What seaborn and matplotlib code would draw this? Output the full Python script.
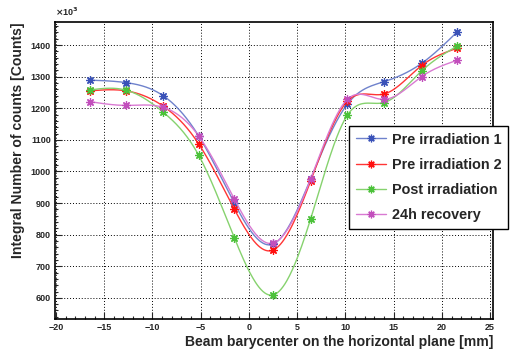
import numpy as np
import pandas as pd
import matplotlib
matplotlib.use("Agg")
import matplotlib.pyplot as plt
from matplotlib.lines import Line2D
from matplotlib.ticker import MultipleLocator
import seaborn as sns

# ---- data (values in units of 10^3 counts) ----
x_pos = [-16.5, -12.7, -8.9, -5.2, -1.5, 2.5, 6.4, 10.2, 14.0, 17.9, 21.6]
pre1 = [1289, 1281, 1240, 1112, 899, 770, 977, 1213, 1284, 1342, 1442]
pre2 = [1255, 1255, 1207, 1087, 880, 751, 970, 1222, 1245, 1335, 1390]
post = [1258, 1257, 1188, 1051, 789, 609, 850, 1178, 1218, 1318, 1397]
rec24 = [1221, 1209, 1203, 1112, 912, 773, 976, 1228, 1228, 1300, 1352]

series_names = ["Pre irradiation 1", "Pre irradiation 2", "Post irradiation", "24h recovery"]
series_vals = [pre1, pre2, post, rec24]
line_colors = ["#6f82cc", "#ff3535", "#86d26e", "#d97ad2"]
marker_colors = ["#3a52b8", "#ff1010", "#4cc23a", "#c24fbc"]

x_ticks = [-20, -15, -10, -5, 0, 5, 10, 15, 20, 25]
y_ticks = [600, 700, 800, 900, 1000, 1100, 1200, 1300, 1400]


def natural_spline(x, y, n=400):
    x = np.asarray(x, float)
    y = np.asarray(y, float)
    k = len(x)
    h = np.diff(x)
    A = np.zeros((k, k))
    b = np.zeros(k)
    A[0, 0] = 1
    A[-1, -1] = 1
    for i in range(1, k - 1):
        A[i, i - 1] = h[i - 1]
        A[i, i] = 2 * (h[i - 1] + h[i])
        A[i, i + 1] = h[i]
        b[i] = 6 * ((y[i + 1] - y[i]) / h[i] - (y[i] - y[i - 1]) / h[i - 1])
    M = np.linalg.solve(A, b)
    xs = np.linspace(x[0], x[-1], n)
    idx = np.clip(np.searchsorted(x, xs) - 1, 0, k - 2)
    x0, x1 = x[idx], x[idx + 1]
    hh = x1 - x0
    ys = (M[idx] * (x1 - xs) ** 3 / (6 * hh) + M[idx + 1] * (xs - x0) ** 3 / (6 * hh)
          + (y[idx] / hh - M[idx] * hh / 6) * (x1 - xs)
          + (y[idx + 1] / hh - M[idx + 1] * hh / 6) * (xs - x0))
    return xs, ys


sns.set_style("white")
plt.rcParams["font.family"] = ["Liberation Sans", "DejaVu Sans"]
plt.rcParams["font.weight"] = "bold"

fig = plt.figure(figsize=(5.13, 3.5), dpi=100)
ax = fig.add_axes([55 / 513, 1 - 319 / 350, (493 - 55) / 513, (319 - 22) / 350])

for name, vals, lc, mc in zip(series_names, series_vals, line_colors, marker_colors):
    xs, ys = natural_spline(x_pos, vals)
    sns.lineplot(x=xs, y=ys, color=lc, linewidth=1.0, ax=ax, sort=False, estimator=None)
    sns.lineplot(x=x_pos, y=vals, color=mc, linestyle="", marker=(8, 2, 0),
                 markersize=6, markeredgewidth=0.9, markeredgecolor=mc, ax=ax,
                 estimator=None)

ax.set_xlim(-20.1, 25.3)
ax.set_ylim(533, 1473)
ax.set_xticks(x_ticks)
ax.set_yticks(y_ticks)
ax.xaxis.set_minor_locator(MultipleLocator(1))
ax.yaxis.set_minor_locator(MultipleLocator(20))
ax.tick_params(axis="both", which="both", direction="in", labelsize=6.5,
               top=False, right=False, left=True, bottom=True, pad=3)
ax.tick_params(which="major", length=5, width=0.8)
ax.tick_params(which="minor", length=2.5, width=0.8)
for lab in ax.get_xticklabels() + ax.get_yticklabels():
    lab.set_fontweight("bold")

ax.grid(True, which="major", color="black", linestyle=(0, (1, 2)), linewidth=0.7)
for sp in ax.spines.values():
    sp.set_visible(True)
    sp.set_color("black")
    sp.set_linewidth(1.2)

ax.set_xlabel("Beam barycenter on the horizontal plane [mm]", loc="right",
              fontsize=10.1, fontweight="bold", labelpad=2)
ax.set_ylabel("Integral Number of counts [Counts]", loc="top",
              fontsize=10.1, fontweight="bold", labelpad=4)
ax.text(0.0, 1.012, r"$\times$10$^{3}$", transform=ax.transAxes, fontsize=6.5,
        ha="left", va="bottom")

handles = [Line2D([0], [0], color=lc, linewidth=1.0, marker=(8, 2, 0), markersize=5.5,
                  markeredgecolor=mc, markeredgewidth=0.9)
           for lc, mc in zip(line_colors, marker_colors)]
leg = fig.legend(handles, series_names, loc="upper left",
                 bbox_to_anchor=(349 / 513, 1 - 126 / 350), borderaxespad=0,
                 frameon=True, fancybox=False, shadow=False, framealpha=1,
                 edgecolor="black", prop={"weight": "bold", "size": 10.4},
                 handlelength=2.1, labelspacing=0.78, borderpad=0.45, handletextpad=0.45)
leg.get_frame().set_linewidth(1.0)

fig.savefig("out.png", dpi=100)
